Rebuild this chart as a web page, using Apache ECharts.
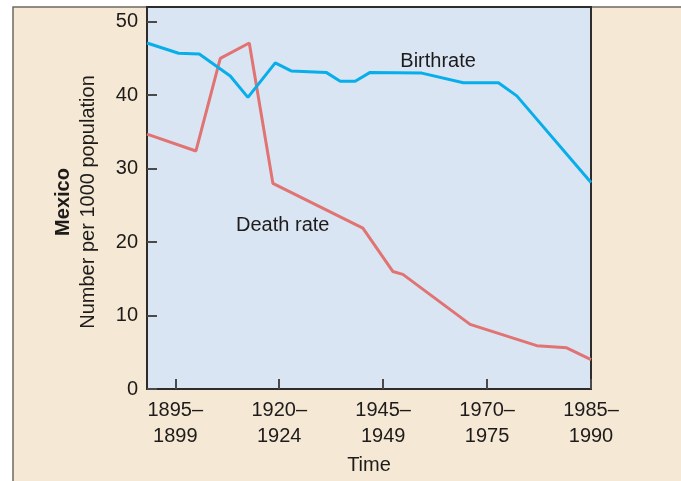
<!DOCTYPE html>
<html>
<head>
<meta charset="utf-8">
<script src="https://cdn.jsdelivr.net/npm/echarts@6/dist/echarts.min.js"></script>
<style>
html,body{margin:0;padding:0;background:#ffffff;}
#chart{width:681px;height:481px;}
</style>
</head>
<body>
<div id="chart"></div>
<script>
// Period tick labels (positions 0..4 on the x axis)
const periodLabels = ['1895–\n1899', '1920–\n1924', '1945–\n1949', '1970–\n1975', '1985–\n1990'];
const periodTicks = [0, 1, 2, 3, 4];
const yTicks = [0, 10, 20, 30, 40, 50];

// Birthrate (x in period units, y per 1000)
const birthX = [-0.272, 0.032, 0.231, 0.529, 0.699, 0.962, 1.115, 1.452, 1.587, 1.731, 1.875, 2.372, 2.772, 3.109, 3.286, 4.0];
const birthY = [47.1, 45.7, 45.6, 42.6, 39.7, 44.4, 43.3, 43.1, 41.9, 41.9, 43.1, 43.0, 41.7, 41.7, 39.9, 28.1];

// Death rate
const deathX = [-0.272, 0.199, 0.433, 0.712, 0.939, 1.805, 2.093, 2.190, 2.837, 3.478, 3.766, 4.0];
const deathY = [34.7, 32.4, 45.0, 47.1, 28.0, 21.9, 16.0, 15.6, 8.8, 5.9, 5.6, 4.0];

// Series annotation labels [x, y, text]
const birthLabel = [2.529, 44.6, 'Birthrate'];
const deathLabel = [1.034, 22.3, 'Death rate'];

const textColor = '#1e1b1b';
const fontFamily = '"Liberation Sans", Arial, sans-serif';
const fs = 20;

const chart = echarts.init(document.getElementById('chart'), null, {renderer: 'canvas'});

function zip(xs, ys) { return xs.map((x, i) => [x, ys[i]]); }

chart.setOption({
  animation: false,
  backgroundColor: '#ffffff',
  graphic: [{
    type: 'rect',
    z: -10,
    silent: true,
    shape: {x: 13, y: 7, width: 700, height: 500},
    style: {fill: '#f5e8d4', stroke: '#6e6862', lineWidth: 1.5}
  }],
  grid: {
    left: 147, top: 7, width: 444, height: 382,
    show: true,
    backgroundColor: '#d9e5f3',
    borderColor: '#2e2c2b',
    borderWidth: 2
  },
  xAxis: {
    type: 'value',
    min: -0.272,
    max: 4,
    name: 'Time',
    nameLocation: 'middle',
    nameGap: 66,
    nameTextStyle: {color: textColor, fontSize: fs, fontFamily: fontFamily},
    axisLine: {show: true, onZero: false, lineStyle: {color: '#2e2c2b', width: 2}},
    axisTick: {show: true, inside: true, length: 10, customValues: periodTicks, lineStyle: {color: '#4a4a4a', width: 2}},
    axisLabel: {
      customValues: periodTicks,
      color: textColor, fontSize: fs, fontFamily: fontFamily,
      lineHeight: 26, margin: 8, align: 'center',
      formatter: v => periodLabels[Math.round(v)]
    },
    splitLine: {show: false}
  },
  yAxis: {
    type: 'value',
    min: 0,
    max: 52,
    name: '{b|Mexico}\n{n|Number per 1000 population}',
    nameLocation: 'middle',
    nameRotate: 90,
    nameGap: 46,
    nameTextStyle: {
      color: textColor, fontFamily: fontFamily,
      padding: [0, 8, 0, 0],
      rich: {
        b: {fontSize: fs, fontWeight: 'bold', color: textColor, fontFamily: fontFamily, lineHeight: 25},
        n: {fontSize: fs, color: textColor, fontFamily: fontFamily, lineHeight: 25}
      }
    },
    axisLine: {show: true, onZero: false, lineStyle: {color: '#2e2c2b', width: 2}},
    axisTick: {show: true, inside: true, length: 10, customValues: yTicks, lineStyle: {color: '#4a4a4a', width: 2}},
    axisLabel: {customValues: yTicks, color: textColor, fontSize: fs, fontFamily: fontFamily, margin: 9},
    splitLine: {show: false}
  },
  series: [
    {
      name: 'Birthrate',
      type: 'line',
      data: zip(birthX, birthY),
      symbol: 'none',
      lineStyle: {color: '#08aeea', width: 3},
      itemStyle: {color: '#08aeea'},
      z: 3,
      markPoint: {
        symbol: 'circle', symbolSize: 1,
        itemStyle: {color: 'rgba(0,0,0,0)'},
        label: {show: true, position: 'inside', color: textColor, fontSize: fs, fontFamily: fontFamily,
                formatter: p => p.data.name},
        data: [{coord: [birthLabel[0], birthLabel[1]], name: birthLabel[2]}]
      }
    },
    {
      name: 'Death rate',
      type: 'line',
      data: zip(deathX, deathY),
      symbol: 'none',
      lineStyle: {color: '#e17372', width: 3},
      itemStyle: {color: '#e17372'},
      z: 2,
      markPoint: {
        symbol: 'circle', symbolSize: 1,
        itemStyle: {color: 'rgba(0,0,0,0)'},
        label: {show: true, position: 'inside', color: textColor, fontSize: fs, fontFamily: fontFamily,
                formatter: p => p.data.name},
        data: [{coord: [deathLabel[0], deathLabel[1]], name: deathLabel[2]}]
      }
    }
  ]
});
</script>
</body>
</html>
